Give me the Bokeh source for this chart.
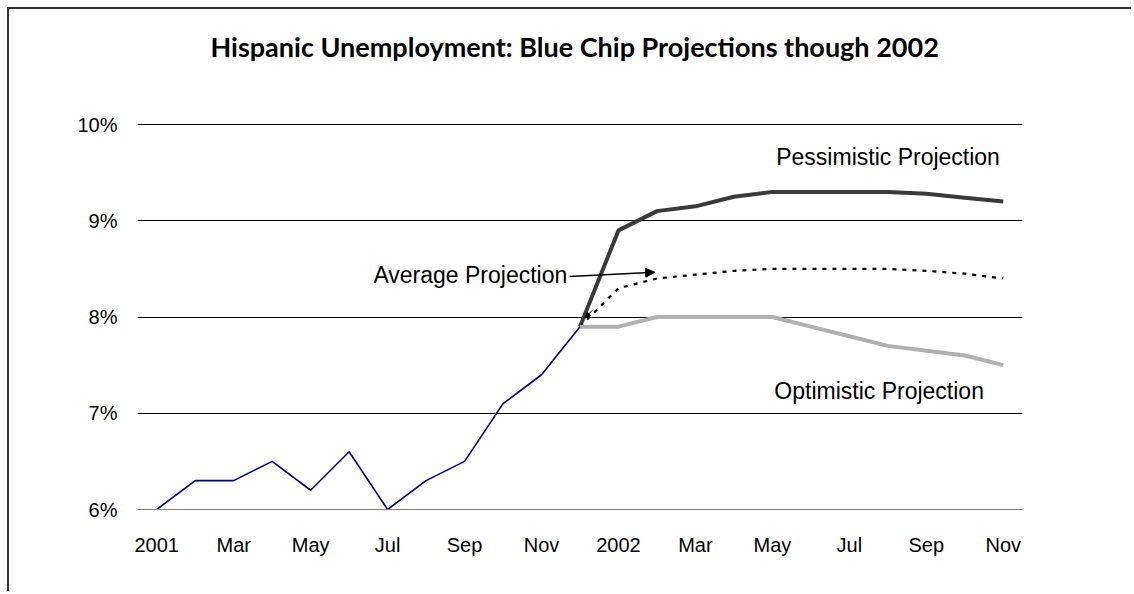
from bokeh.plotting import figure
from bokeh.models import FixedTicker, Label, Arrow, NormalHead
from bokeh.embed import file_html
from bokeh.resources import INLINE

# ---- data ----
month_index = list(range(23))  # Jan 2001 .. Nov 2002
x_tick_labels = ["2001", "Mar", "May", "Jul", "Sep", "Nov",
                 "2002", "Mar", "May", "Jul", "Sep", "Nov"]
y_ticks = [6, 7, 8, 9, 10]
y_tick_labels = ["6%", "7%", "8%", "9%", "10%"]

actual_x = month_index[0:12]
actual = [6.0, 6.3, 6.3, 6.5, 6.2, 6.6, 6.0, 6.3, 6.5, 7.1, 7.4, 7.9]

proj_x = month_index[11:23]
pessimistic = [7.9, 8.9, 9.1, 9.15, 9.25, 9.3, 9.3, 9.3, 9.3, 9.28, 9.24, 9.2]
average = [7.9, 8.3, 8.4, 8.44, 8.48, 8.5, 8.5, 8.5, 8.5, 8.48, 8.45, 8.4]
optimistic = [7.9, 7.9, 8.0, 8.0, 8.0, 8.0, 7.9, 7.8, 7.7, 7.65, 7.6, 7.5]

title_text = "Hispanic Unemployment: Blue Chip Projections though 2002"

# ---- figure ----
# the frame reaches the top of the canvas so the title can sit inside it
p = figure(width=1124, height=584, output_backend="svg", toolbar_location=None,
           x_range=(-0.5, 22.5), y_range=(6, 11.195))
p.styles = {"border-top": "2px solid #333333", "border-left": "2px solid #333333",
            "margin-top": "7px", "margin-left": "7px"}
p.min_border_left = 128
p.min_border_right = 111
p.min_border_top = 0
p.min_border_bottom = 84
p.outline_line_color = None
p.background_fill_color = "white"
p.border_fill_color = "white"

p.xgrid.grid_line_color = None
p.ygrid.grid_line_color = "#000000"
p.ygrid.grid_line_width = 1
p.ygrid.ticker = FixedTicker(ticks=y_ticks)

p.xaxis.ticker = FixedTicker(ticks=month_index[::2])
p.xaxis.major_label_overrides = {i: lab for i, lab in zip(month_index[::2], x_tick_labels)}
p.yaxis.ticker = FixedTicker(ticks=y_ticks)
p.yaxis.major_label_overrides = {t: lab for t, lab in zip(y_ticks, y_tick_labels)}

for ax in (p.xaxis[0], p.yaxis[0]):
    ax.major_tick_line_color = None
    ax.minor_tick_line_color = None
    ax.major_tick_out = 0
    ax.major_tick_in = 0
    ax.major_label_text_font = "Liberation Sans"
    ax.major_label_text_font_size = "20px"
    ax.major_label_text_color = "#000000"
p.xaxis.axis_line_color = "#808080"
p.yaxis.axis_line_color = None
p.xaxis.major_label_standoff = 24
p.yaxis.major_label_standoff = 20

# ---- series ----
p.line(actual_x, actual, line_color="#000080", line_width=1.6)
p.line(proj_x, pessimistic, line_color="#3a3a3a", line_width=4)
p.line(proj_x, average, line_color="#000000", line_width=2.2, line_dash="4 6")
p.line(proj_x, optimistic, line_color="#b0b0b0", line_width=4)

# ---- annotations ----
p.add_layout(Label(x=10.86, y=10.81, text=title_text, text_font="Lato",
                   text_font_style="bold", text_font_size="27px",
                   text_align="center", text_baseline="middle", text_color="#000000"))
p.add_layout(Label(x=16.1, y=9.667, text="Pessimistic Projection",
                   text_font="Liberation Sans", text_font_size="23px",
                   text_align="left", text_baseline="middle", text_color="#000000"))
p.add_layout(Label(x=16.05, y=7.236, text="Optimistic Projection",
                   text_font="Liberation Sans", text_font_size="23px",
                   text_align="left", text_baseline="middle", text_color="#000000"))
p.add_layout(Label(x=10.67, y=8.44, text="Average Projection",
                   text_font="Liberation Sans", text_font_size="23px",
                   text_align="right", text_baseline="middle", text_color="#000000"))
p.add_layout(Arrow(x_start=10.73, y_start=8.42, x_end=12.94, y_end=8.465,
                   line_color="#000000", line_width=1.5,
                   end=NormalHead(size=9, fill_color="#000000", line_color="#000000")))
p.add_layout(Arrow(x_start=11.32, y_start=8.07, x_end=11.14, y_end=7.995,
                   line_color="#000000", line_width=1,
                   end=NormalHead(size=5, fill_color="#000000", line_color="#000000")))

open("out.html", "w").write(file_html(p, INLINE))
